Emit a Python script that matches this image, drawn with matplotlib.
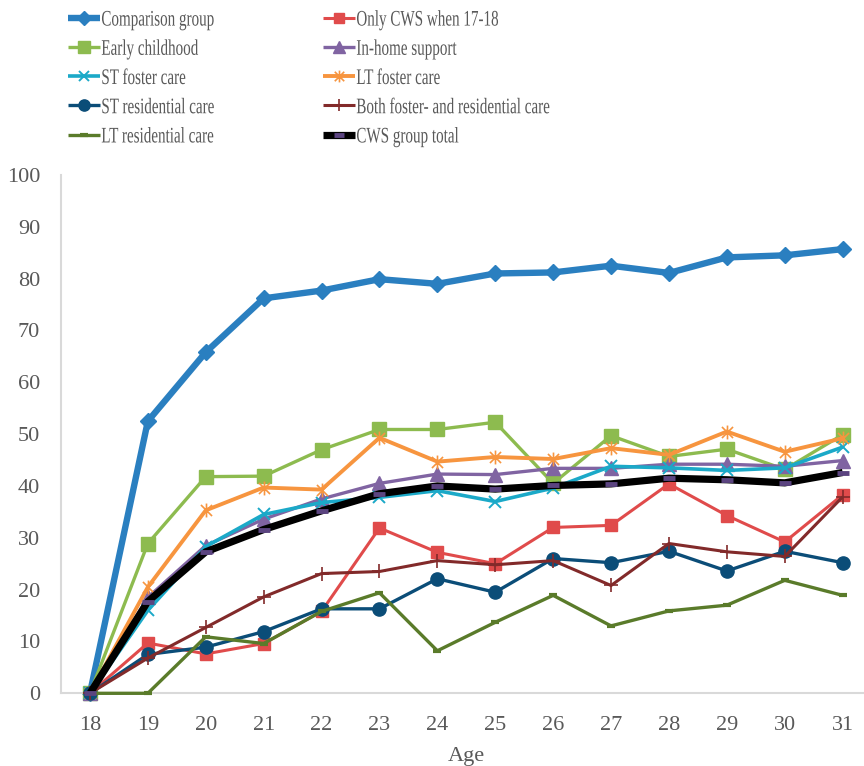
import matplotlib
matplotlib.use("Agg")
import matplotlib.pyplot as plt
from matplotlib.path import Path
from matplotlib.patheffects import AbstractPathEffect
from matplotlib.transforms import Affine2D

ages = [18, 19, 20, 21, 22, 23, 24, 25, 26, 27, 28, 29, 30, 31]

comparison = [0, 52.5, 65.8, 76.2, 77.7, 79.9, 79.0, 81.0, 81.2, 82.5, 81.1, 84.1, 84.5, 85.7]
only_cws = [0, 9.7, 7.6, 9.6, 15.8, 31.9, 27.2, 25.0, 32.0, 32.4, 40.4, 34.3, 29.2, 38.3]
early_childhood = [0, 28.9, 41.8, 41.9, 47.0, 50.9, 50.9, 52.3, 40.5, 49.7, 45.7, 47.1, 43.2, 49.9]
in_home = [0, 18.5, 28.5, 33.6, 37.5, 40.5, 42.3, 42.2, 43.4, 43.4, 44.2, 44.2, 43.8, 44.9]
st_foster = [0, 16.0, 28.3, 34.5, 36.8, 37.8, 39.1, 37.0, 39.6, 43.8, 43.5, 43.0, 43.5, 47.5]
lt_foster = [0, 20.5, 35.3, 39.7, 39.3, 49.3, 44.7, 45.6, 45.2, 47.3, 46.0, 50.5, 46.6, 49.2]
st_residential = [0, 7.5, 8.9, 11.9, 16.3, 16.3, 22.1, 19.5, 26.0, 25.2, 27.4, 23.6, 27.4, 25.2]
both_foster_res = [0, 6.8, 12.7, 18.6, 23.1, 23.5, 25.6, 24.8, 25.6, 20.8, 28.9, 27.3, 26.4, 37.9]
lt_residential = [0, 0, 10.9, 9.6, 15.8, 19.4, 8.2, 13.7, 18.9, 13.0, 15.9, 17.0, 21.8, 18.9]
cws_total = [0, 17.7, 27.3, 31.6, 35.2, 38.5, 40.0, 39.4, 40.1, 40.4, 41.5, 41.2, 40.6, 42.6]

y_ticks = list(range(0, 101, 10))

# asterisk marker: vertical stroke plus two diagonals
_asterisk = Path(
    [(0, -1), (0, 1), (-0.8, -0.8), (0.8, 0.8), (-0.8, 0.8), (0.8, -0.8)],
    [Path.MOVETO, Path.LINETO, Path.MOVETO, Path.LINETO, Path.MOVETO, Path.LINETO],
)


class Condense(AbstractPathEffect):
    """Squeeze glyph outlines horizontally about the text origin."""

    def __init__(self, sx):
        super().__init__()
        self._sx = sx

    def draw_path(self, renderer, gc, tpath, affine, rgbFace=None):
        renderer.draw_path(gc, tpath, Affine2D().scale(self._sx, 1.0) + affine, rgbFace)


plt.rcParams["font.family"] = ["Liberation Serif", "DejaVu Serif"]

fig = plt.figure(figsize=(8.64, 7.66), dpi=100)
W, H = 864, 766
x_left, x_right = 61, 61 + 14 * 57.9
y_top, y_bot = 175, 693.3
ax = fig.add_axes([x_left / W, 1 - y_bot / H, (x_right - x_left) / W, (y_bot - y_top) / H])

series = [
    ("Comparison group", comparison, dict(color="#2A7FC0", lw=4.6, marker="D", ms=8)),
    ("Only CWS when 17-18", only_cws, dict(color="#E04B4B", lw=2.2, marker="s", ms=8.5)),
    ("Early childhood", early_childhood, dict(color="#8DBB4F", lw=2.4, marker="s", ms=9.5)),
    ("In-home support", in_home, dict(color="#8064A2", lw=2.4, marker="^", ms=9.5)),
    ("ST foster care", st_foster, dict(color="#1BA9C8", lw=2.6, marker="x", ms=8.5, mew=1.4)),
    ("LT foster care", lt_foster, dict(color="#F7953F", lw=2.8, marker=_asterisk, ms=10, mew=1.2)),
    ("ST residential care", st_residential, dict(color="#0B4D78", lw=2.4, marker="o", ms=9.5)),
    ("Both foster- and residential care", both_foster_res, dict(color="#822A2A", lw=2.2, marker="+", ms=10, mew=1.2)),
    ("LT residential care", lt_residential, dict(color="#5A7B2A", lw=2.4, marker="_", ms=6, mew=3)),
    ("CWS group total", cws_total, dict(color="#000000", lw=5.2, marker="_", ms=8, mew=3.5, mec="#5B4480", mfc="#5B4480")),
]

handles = {}
for i, (label, vals, style) in enumerate(series):
    (h,) = ax.plot(ages, vals, label=label, zorder=2 + i, solid_joinstyle="miter",
                   solid_capstyle="butt", clip_on=False, **style)
    handles[label] = h

ax.set_xlim(17.5, 31.5)
ax.set_ylim(0, 100)
ax.set_xticks(ages)
ax.set_yticks(y_ticks)
ax.tick_params(axis="both", length=0, labelsize=16, labelcolor="#595959")
ax.tick_params(axis="y", pad=15)
ax.tick_params(axis="x", pad=16.5)
for side in ("top", "right"):
    ax.spines[side].set_visible(False)
for side in ("left", "bottom"):
    ax.spines[side].set_color("#D9D9D9")
    ax.spines[side].set_linewidth(1.5)
ax.set_xlabel("Age", fontsize=16, color="#595959", labelpad=8.5)

col1 = ["Comparison group", "Early childhood", "ST foster care", "ST residential care", "LT residential care"]
col2 = ["Only CWS when 17-18", "In-home support", "LT foster care",
        "Both foster- and residential care", "CWS group total"]

for names, x0 in ((col1, 68), (col2, 323)):
    leg = fig.legend([handles[n] for n in names], names, loc="upper left",
                     bbox_to_anchor=(x0 / W, 1 - 10 / H), frameon=False,
                     fontsize=16, handlelength=1.45, handletextpad=0.05,
                     labelspacing=0.39, borderpad=0, borderaxespad=0,
                     markerscale=0.85)
    for t in leg.get_texts():
        t.set_color("#595959")
        t.set_path_effects([Condense(0.68)])

fig.savefig("out.png", dpi=100)
